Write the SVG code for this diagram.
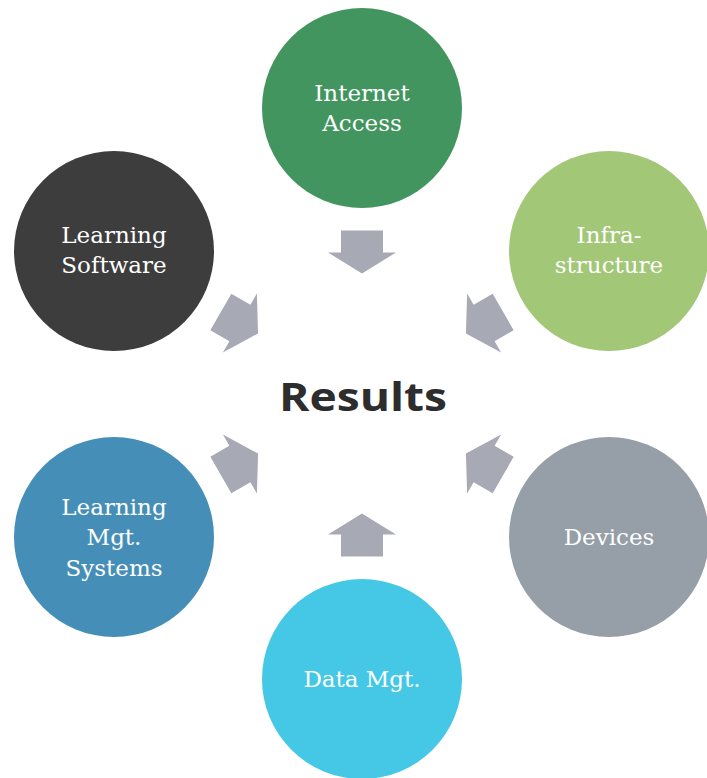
<svg xmlns="http://www.w3.org/2000/svg" width="707" height="778" viewBox="0 0 707 778">
<defs>
<style>
.lbl{font-family:"DejaVu Serif","Liberation Serif",serif;font-size:23px;fill:#ffffff;text-anchor:middle}
.arr{fill:#A7AAB5}
.title{font-family:"Open Sans","Lato","Liberation Sans",sans-serif;font-weight:bold;font-size:40px;fill:#2D2D2D;text-anchor:middle}
</style>
<polygon id="arrow" points="-21,-163 21,-163 21,-141 34,-141 0,-120 -34,-141 -21,-141"/>
</defs>
<rect width="707" height="778" fill="#ffffff"/>
<g id="connectors" class="arr" transform="translate(362,393.5)">
<use href="#arrow"/>
<use href="#arrow" transform="rotate(60)"/>
<use href="#arrow" transform="rotate(120)"/>
<use href="#arrow" transform="rotate(180)"/>
<use href="#arrow" transform="rotate(240)"/>
<use href="#arrow" transform="rotate(300)"/>
</g>
<g id="internet-access">
<circle cx="362" cy="108" r="100" fill="#42955E"/>
<text class="lbl" x="362" y="101">Internet</text>
<text class="lbl" x="362" y="131">Access</text>
</g>
<g id="infrastructure">
<circle cx="609" cy="251" r="100" fill="#A2C777"/>
<text class="lbl" x="609" y="243">Infra-</text>
<text class="lbl" x="609" y="273">structure</text>
</g>
<g id="devices">
<circle cx="609" cy="537" r="100" fill="#969EA8"/>
<text class="lbl" x="609" y="545">Devices</text>
</g>
<g id="data-mgt">
<circle cx="362" cy="679" r="100" fill="#44C8E6"/>
<text class="lbl" x="362" y="687">Data Mgt.</text>
</g>
<g id="learning-mgt-systems">
<circle cx="114" cy="537" r="100" fill="#458EB7"/>
<text class="lbl" x="114" y="515">Learning</text>
<text class="lbl" x="114" y="545">Mgt.</text>
<text class="lbl" x="114" y="576">Systems</text>
</g>
<g id="learning-software">
<circle cx="114" cy="251" r="100" fill="#3D3D3D"/>
<text class="lbl" x="114" y="243">Learning</text>
<text class="lbl" x="114" y="273">Software</text>
</g>
<g id="results">
<text class="title" x="363" y="411" textLength="168" lengthAdjust="spacingAndGlyphs">Results</text>
</g>
</svg>
